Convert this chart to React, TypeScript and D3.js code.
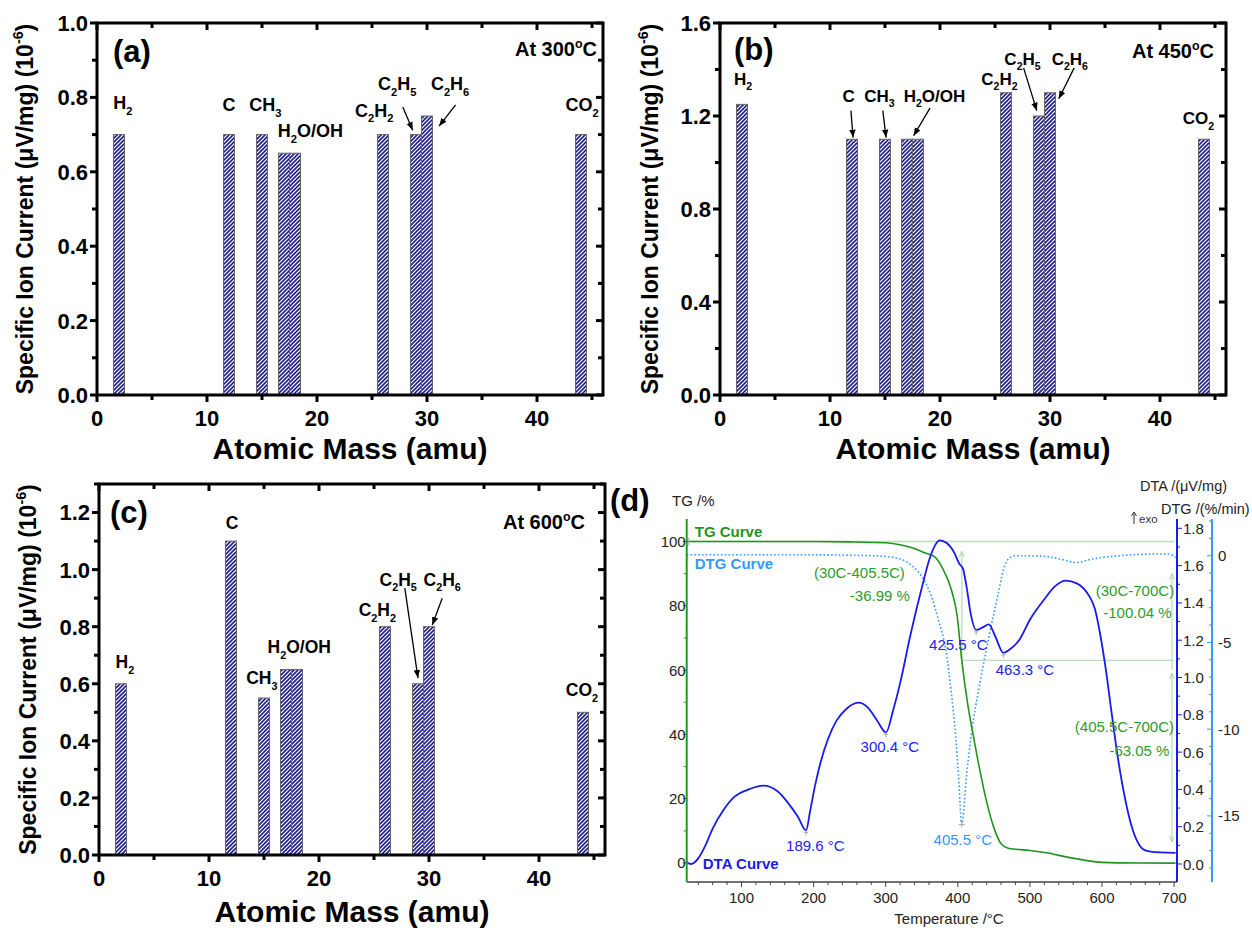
import React, { useEffect, useRef } from "react";
import * as d3 from "d3";

// ---- panels (a)-(c): ion current per atomic mass ----
const mass = [2, 12, 15, 17, 18, 26, 29, 30, 44];
const ion300 = [0.7, 0.7, 0.7, 0.65, 0.65, 0.7, 0.7, 0.75, 0.7];
const ion450 = [1.25, 1.1, 1.1, 1.1, 1.1, 1.3, 1.2, 1.3, 1.1];
const ion600 = [0.6, 1.1, 0.55, 0.65, 0.65, 0.8, 0.6, 0.8, 0.5];
const massTicks = [0, 10, 20, 30, 40];
const massMinor = [5, 15, 25, 35, 45];

// species labels, in data units (x = amu, y = ion current, label centre)
const labels300 = [
  { t: "H_2", x: 2.36, y: 0.785 },
  { t: "C", x: 12, y: 0.78 },
  { t: "CH_3", x: 15.3, y: 0.78 },
  { t: "H_2O/OH", x: 19.4, y: 0.71 },
  { t: "C_2H_2", x: 25.2, y: 0.766 },
  { t: "C_2H_5", x: 27.3, y: 0.836 },
  { t: "C_2H_6", x: 32.1, y: 0.836 },
  { t: "CO_2", x: 44.1, y: 0.78 },
];
const arrows300 = [
  [27.8, 0.774, 28.7, 0.712],
  [32.6, 0.78, 31.1, 0.723],
];
const labels450 = [
  { t: "H_2", x: 2.1, y: 1.36 },
  { t: "C", x: 11.7, y: 1.287 },
  { t: "CH_3", x: 14.5, y: 1.287 },
  { t: "H_2O/OH", x: 19.5, y: 1.287 },
  { t: "C_2H_2", x: 25.4, y: 1.36 },
  { t: "C_2H_5", x: 27.5, y: 1.446 },
  { t: "C_2H_6", x: 31.8, y: 1.446 },
  { t: "CO_2", x: 43.5, y: 1.19 },
];
const arrows450 = [
  [11.9, 1.223, 12.1, 1.107],
  [14.8, 1.223, 15.1, 1.107],
  [19.1, 1.235, 17.6, 1.115],
  [27.6, 1.407, 28.8, 1.223],
  [32.2, 1.407, 30.8, 1.274],
];
const labels600 = [
  { t: "H_2", x: 2.36, y: 0.676 },
  { t: "C", x: 12.1, y: 1.163 },
  { t: "CH_3", x: 14.8, y: 0.62 },
  { t: "H_2O/OH", x: 18.2, y: 0.729 },
  { t: "C_2H_2", x: 25.3, y: 0.858 },
  { t: "C_2H_5", x: 27.2, y: 0.964 },
  { t: "C_2H_6", x: 31.2, y: 0.964 },
  { t: "CO_2", x: 43.9, y: 0.578 },
];
const arrows600 = [
  [27.8, 0.935, 29.0, 0.62],
  [31.2, 0.9, 30.3, 0.806],
];

// ---- panel (d): thermal analysis ----
const tgTemp = [24, 100, 200, 250, 300, 320, 340, 355, 368, 379, 391, 399, 405.5, 414, 422, 430, 440, 450, 460, 470, 480, 500, 525, 550, 575, 600, 650, 702];
const tgMass = [100, 100, 100, 99.9, 99.6, 99.0, 97.8, 96.4, 95.2, 91.6, 85, 77, 63, 49, 39, 29.5, 19, 11, 6, 4.6, 4.3, 3.9, 3.1, 1.9, 0.9, 0.2, 0, -0.04];

const dtaTemp = [24, 30, 40, 50, 60, 75, 90, 110, 130, 150, 165, 178, 189.6, 195, 202, 210, 220, 232, 245, 262, 275, 288, 300.4, 310, 320, 335, 350, 362, 375, 385, 395, 402, 407, 412, 418, 425.5, 435, 443, 452, 463.3, 472, 485, 500, 520, 535, 550, 565, 580, 590, 598, 605, 613, 622, 632, 642, 652, 662, 680, 702];
const dtaVal = [0.01, 0.0, 0.03, 0.1, 0.19, 0.29, 0.36, 0.4, 0.42, 0.39, 0.325, 0.255, 0.18, 0.28, 0.42, 0.55, 0.67, 0.77, 0.83, 0.865, 0.84, 0.77, 0.705, 0.82, 0.97, 1.24, 1.48, 1.65, 1.735, 1.72, 1.67, 1.61, 1.585, 1.49, 1.34, 1.255, 1.27, 1.285, 1.22, 1.132, 1.15, 1.2, 1.31, 1.42, 1.49, 1.52, 1.505, 1.45, 1.37, 1.22, 1.05, 0.82, 0.57, 0.35, 0.19, 0.1, 0.07, 0.062, 0.06];

const dtgTemp = [24, 100, 200, 280, 300, 317, 337, 353, 363, 373, 384, 391, 397, 401, 405.5, 412, 420, 430, 443, 456, 463, 471, 480, 500, 525, 548, 565, 585, 625, 680, 692, 702];
const dtgVal = [0.05, 0.05, 0.05, 0, -0.05, -0.15, -0.6, -1.4, -2.3, -3.7, -5.6, -7.9, -10.4, -12.7, -15.5, -12.7, -9.9, -7.5, -4.7, -2.2, -0.85, -0.15, 0, 0, -0.06, -0.25, -0.4, -0.2, 0, 0.1, 0.1, -0.1];

const tempTicks = [100, 200, 300, 400, 500, 600, 700];
const tgTicks = [0, 20, 40, 60, 80, 100];
const dtaTicks = [0, 0.2, 0.4, 0.6, 0.8, 1.0, 1.2, 1.4, 1.6, 1.8];
const dtgTicks = [0, -5, -10, -15];

// annotations: [text, T, value, scale, colour]
const peakNotes = [
  ["189.6 °C", 202.4, 0.072, "dta", "#2222ee"],
  ["300.4 °C", 305.8, 0.601, "dta", "#2222ee"],
  ["425.5 °C", 400.8, 1.15, "dta", "#2222ee"],
  ["463.3 °C", 493.1, 1.011, "dta", "#2222ee"],
  ["405.5 °C", 407.0, -16.7, "dtg", "#3399ff"],
  ["(30C-405.5C)", 263.5, 88.6, "tg", "#2e9b2e"],
  ["-36.99 %", 291.9, 81.6, "tg", "#2e9b2e"],
  ["(30C-700C)", 645.7, 83.2, "tg", "#2e9b2e"],
  ["-100.04 %", 649.1, 76.2, "tg", "#2e9b2e"],
  ["(405.5C-700C)", 631.1, 40.6, "tg", "#2e9b2e"],
  ["-63.05 %", 651.9, 33.4, "tg", "#2e9b2e"],
];
const markedDta = [
  [189.6, 0.18],
  [300.4, 0.705],
  [425.5, 1.255],
  [463.3, 1.132],
];

const FONT = "'Liberation Sans', Arial, Helvetica, sans-serif";

function rich(text: any, s: string, size: number) {
  const parts = s.split(/(_\{[^}]*\}|_.|\^\{[^}]*\}|\^.)/).filter((p) => p.length);
  let shift = 0;
  parts.forEach((p) => {
    let dy = 0;
    let fs = size;
    let str = p;
    if (p[0] === "_" || p[0] === "^") {
      str = p.slice(1).replace(/[{}]/g, "");
      fs = size * 0.62;
      const target = p[0] === "_" ? size * 0.3 : -size * 0.42;
      dy = target - shift;
      shift = target;
    } else {
      dy = -shift;
      shift = 0;
    }
    text.append("tspan").attr("dy", dy).attr("font-size", fs).text(str);
  });
}

function barPanel(svg: any, cfg: any, values: number[], labels: any[], arrows: number[][]) {
  const x = d3.scaleLinear().domain([0, 46]).range([cfg.left, cfg.right]);
  const y = d3.scaleLinear().domain([0, cfg.yMax]).range([cfg.bottom, cfg.top]);
  const g = svg.append("g").attr("font-family", FONT).attr("font-weight", "bold");

  g.selectAll("rect.bar")
    .data(mass)
    .join("rect")
    .attr("x", (d: number) => x(d - 0.5))
    .attr("width", x(1) - x(0))
    .attr("y", (d: number, i: number) => y(values[i]))
    .attr("height", (d: number, i: number) => y(0) - y(values[i]))
    .attr("fill", "url(#hatch)")
    .attr("stroke", "#666")
    .attr("stroke-width", 1);

  // frame
  g.append("rect")
    .attr("x", cfg.left)
    .attr("y", cfg.top)
    .attr("width", cfg.right - cfg.left)
    .attr("height", cfg.bottom - cfg.top)
    .attr("fill", "none")
    .attr("stroke", "#000")
    .attr("stroke-width", 3);

  const ticks = g.append("g").attr("stroke", "#000").attr("stroke-width", 3);
  const yMaj = d3.range(0, cfg.yMax + 1e-9, cfg.yStep);
  const yMin = d3.range(cfg.yStep / 2, cfg.yMax + 1e-9, cfg.yStep);
  const vt = (vals: number[], len: number) => {
    vals.forEach((v) => {
      ticks.append("line").attr("x1", cfg.left).attr("x2", cfg.left - len).attr("y1", y(v)).attr("y2", y(v));
      ticks.append("line").attr("x1", cfg.right).attr("x2", cfg.right - len).attr("y1", y(v)).attr("y2", y(v));
    });
  };
  const ht = (vals: number[], len: number) => {
    vals.forEach((v) => {
      ticks.append("line").attr("x1", x(v)).attr("x2", x(v)).attr("y1", cfg.bottom).attr("y2", cfg.bottom + len);
      ticks.append("line").attr("x1", x(v)).attr("x2", x(v)).attr("y1", cfg.top).attr("y2", cfg.top + len);
    });
  };
  vt(yMaj, 7);
  vt(yMin, 5);
  ht(massTicks, 7);
  ht(massMinor, 5);

  g.selectAll("text.yl")
    .data(yMaj)
    .join("text")
    .attr("x", cfg.left - 9)
    .attr("y", (d: number) => y(d) + cfg.tickSize * 0.36)
    .attr("text-anchor", "end")
    .attr("font-size", cfg.tickSize)
    .text((d: number) => d3.format(".1f")(d));
  g.selectAll("text.xl")
    .data(massTicks)
    .join("text")
    .attr("x", (d: number) => x(d))
    .attr("y", cfg.bottom + 31)
    .attr("text-anchor", "middle")
    .attr("font-size", cfg.tickSize)
    .text((d: number) => d);

  g.append("text")
    .attr("x", (cfg.left + cfg.right) / 2)
    .attr("y", cfg.bottom + cfg.xTitleDy)
    .attr("text-anchor", "middle")
    .attr("font-size", 30)
    .text("Atomic Mass (amu)");

  const yt = g
    .append("text")
    .attr("transform", `translate(${cfg.yTitleX},${(cfg.top + cfg.bottom) / 2}) rotate(-90)`)
    .attr("text-anchor", "middle")
    .attr("font-size", 23);
  rich(yt, "Specific Ion Current (μV/mg) (10^{-6})", 23);

  g.append("text").attr("x", cfg.tagX).attr("y", cfg.tagY).attr("font-size", 31).text(cfg.tag);
  const temp = g
    .append("text")
    .attr("x", cfg.tempX)
    .attr("y", cfg.tempY)
    .attr("text-anchor", "end")
    .attr("font-size", 20);
  rich(temp, cfg.temp, 20);

  labels.forEach((l) => {
    const t = g
      .append("text")
      .attr("x", x(l.x))
      .attr("y", y(l.y) + cfg.labelSize * 0.36)
      .attr("text-anchor", "middle")
      .attr("font-size", cfg.labelSize);
    rich(t, l.t, cfg.labelSize);
  });
  arrows.forEach((a) => {
    g.append("line")
      .attr("x1", x(a[0]))
      .attr("y1", y(a[1]))
      .attr("x2", x(a[2]))
      .attr("y2", y(a[3]))
      .attr("stroke", "#000")
      .attr("stroke-width", 1.3)
      .attr("marker-end", "url(#arrow)");
  });
}

function thermalPanel(svg: any) {
  const left = 686.7;
  const right = 1177;
  const top = 519;
  const bottom = 882;
  const x = d3.scaleLinear().domain([24, 704]).range([left, right]);
  const tgY = d3.scaleLinear().domain([-5.91, 107]).range([bottom, top]);
  const dtaY = d3.scaleLinear().domain([-0.0965, 1.85]).range([bottom, top]);
  const dtgY = d3.scaleLinear().domain([-18.81, 2.115]).range([bottom, top]);
  const scaleOf: any = { tg: tgY, dta: dtaY, dtg: dtgY };
  const g = svg.append("g").attr("font-family", FONT).attr("font-size", 15);
  const guide = "#b9dfb9";

  // step guide lines
  g.append("line").attr("x1", x(26)).attr("x2", x(700)).attr("y1", tgY(100)).attr("y2", tgY(100)).attr("stroke", guide).attr("stroke-width", 1.3);
  g.append("line").attr("x1", x(405.5)).attr("x2", x(700)).attr("y1", tgY(63.01)).attr("y2", tgY(63.01)).attr("stroke", guide).attr("stroke-width", 1.3);
  g.append("line").attr("x1", x(405.5)).attr("x2", x(405.5)).attr("y1", tgY(63.01)).attr("y2", tgY(97)).attr("stroke", guide).attr("stroke-width", 1.3).attr("marker-end", "url(#garrow)");
  g.append("line").attr("x1", x(697)).attr("x2", x(697)).attr("y1", tgY(60)).attr("y2", tgY(90)).attr("stroke", guide).attr("stroke-width", 1.3).attr("marker-end", "url(#garrow)");
  g.append("line").attr("x1", x(697)).attr("x2", x(697)).attr("y1", tgY(40)).attr("y2", tgY(59)).attr("stroke", guide).attr("stroke-width", 1.3).attr("marker-end", "url(#garrow)");
  g.append("line").attr("x1", x(697)).attr("x2", x(697)).attr("y1", tgY(40)).attr("y2", tgY(6.6)).attr("stroke", guide).attr("stroke-width", 1.3).attr("marker-end", "url(#garrow)");

  const line = (ys: any) =>
    d3
      .line<[number, number]>()
      .x((d) => x(d[0]))
      .y((d) => ys(d[1]))
      .curve(d3.curveMonotoneX);

  g.append("path")
    .attr("d", line(dtgY)(d3.zip(dtgTemp, dtgVal) as any))
    .attr("fill", "none")
    .attr("stroke", "#3399ff")
    .attr("stroke-width", 1.6)
    .attr("stroke-dasharray", "1.6,2.2");
  g.append("path")
    .attr("d", line(tgY)(d3.zip(tgTemp, tgMass) as any))
    .attr("fill", "none")
    .attr("stroke", "#1f951f")
    .attr("stroke-width", 1.6);
  g.append("path")
    .attr("d", line(dtaY)(d3.zip(dtaTemp, dtaVal) as any))
    .attr("fill", "none")
    .attr("stroke", "#1a1aee")
    .attr("stroke-width", 1.8);

  // small markers at picked points
  const mk = g.append("g").attr("stroke", "#aaa").attr("stroke-width", 1);
  markedDta.forEach((p) => {
    mk.append("line").attr("x1", x(p[0])).attr("x2", x(p[0])).attr("y1", dtaY(p[1])).attr("y2", dtaY(p[1]) + 5);
    mk.append("line").attr("x1", x(p[0]) - 2).attr("x2", x(p[0]) + 2).attr("y1", dtaY(p[1]) + 2).attr("y2", dtaY(p[1]) + 2);
  });
  mk.append("line").attr("x1", x(405.5)).attr("x2", x(405.5)).attr("y1", dtgY(-15.5) - 3).attr("y2", dtgY(-15.5) + 3);
  mk.append("line").attr("x1", x(405.5) - 3).attr("x2", x(405.5) + 3).attr("y1", dtgY(-15.5)).attr("y2", dtgY(-15.5));
  mk.append("line").attr("x1", x(27)).attr("x2", x(27)).attr("y1", tgY(100) - 4).attr("y2", tgY(100) + 4);

  // axes
  g.append("line").attr("x1", left).attr("x2", right).attr("y1", bottom).attr("y2", bottom).attr("stroke", "#444").attr("stroke-width", 1.5);
  d3.range(40, 701, 20).forEach((t) => {
    const len = t % 100 === 0 ? 5 : 3;
    g.append("line").attr("x1", x(t)).attr("x2", x(t)).attr("y1", bottom).attr("y2", bottom + len).attr("stroke", "#444").attr("stroke-width", 1);
  });
  g.selectAll("text.tx")
    .data(tempTicks)
    .join("text")
    .attr("x", (d: number) => x(d))
    .attr("y", 903)
    .attr("text-anchor", "middle")
    .attr("fill", "#222")
    .text((d: number) => d);

  g.append("line").attr("x1", left).attr("x2", left).attr("y1", top).attr("y2", bottom).attr("stroke", "#1f9a1f").attr("stroke-width", 2);
  d3.range(0, 101, 10).forEach((v) => {
    g.append("line").attr("x1", left).attr("x2", left - (v % 20 === 0 ? 4 : 3)).attr("y1", tgY(v)).attr("y2", tgY(v)).attr("stroke", "#1f9a1f").attr("stroke-width", 1);
  });
  g.selectAll("text.tg")
    .data(tgTicks)
    .join("text")
    .attr("x", left - 1)
    .attr("y", (d: number) => tgY(d) + 5.5)
    .attr("text-anchor", "end")
    .attr("fill", "#222")
    .text((d: number) => d);

  g.append("line").attr("x1", right).attr("x2", right).attr("y1", top).attr("y2", bottom).attr("stroke", "#1a1aee").attr("stroke-width", 2);
  d3.range(0, 19).forEach((i) => {
    const v = i / 10;
    g.append("line").attr("x1", right).attr("x2", right + (i % 2 === 0 ? 5 : 3)).attr("y1", dtaY(v)).attr("y2", dtaY(v)).attr("stroke", "#1a1aee").attr("stroke-width", 1);
  });
  g.selectAll("text.dta")
    .data(dtaTicks)
    .join("text")
    .attr("x", right + 6)
    .attr("y", (d: number) => dtaY(d) + 5.5)
    .attr("fill", "#222")
    .text((d: number) => d3.format(".1f")(d));

  const dtgX = 1212;
  g.append("line").attr("x1", dtgX).attr("x2", dtgX).attr("y1", top).attr("y2", bottom).attr("stroke", "#3399ff").attr("stroke-width", 2);
  d3.range(-18, 3).forEach((v) => {
    g.append("line").attr("x1", dtgX).attr("x2", dtgX - (v % 5 === 0 ? 5 : 3)).attr("y1", dtgY(v)).attr("y2", dtgY(v)).attr("stroke", "#3399ff").attr("stroke-width", 1);
  });
  g.selectAll("text.dtg")
    .data(dtgTicks)
    .join("text")
    .attr("x", dtgX + 6)
    .attr("y", (d: number) => dtgY(d) + 5.5)
    .attr("fill", "#222")
    .text((d: number) => d);

  // titles
  g.append("text").attr("x", 672).attr("y", 506).attr("fill", "#222").text("TG /%");
  g.append("text").attr("x", 1140).attr("y", 491).attr("font-size", 14.5).attr("fill", "#222").text("DTA /(μV/mg)");
  g.append("text").attr("x", 1161).attr("y", 514).attr("font-size", 14.5).attr("fill", "#222").text("DTG /(%/min)");
  // exo arrow
  g.append("line").attr("x1", 1134).attr("x2", 1134).attr("y1", 524).attr("y2", 513).attr("stroke", "#333").attr("stroke-width", 1);
  g.append("path").attr("d", "M1131.5,516 L1134,512 L1136.5,516").attr("fill", "none").attr("stroke", "#333").attr("stroke-width", 1);
  g.append("text").attr("x", 1139).attr("y", 523).attr("font-size", 11.5).attr("fill", "#333").text("exo");
  g.append("text").attr("x", 949).attr("y", 924).attr("text-anchor", "middle").attr("fill", "#222").text("Temperature /°C");

  g.append("text").attr("x", x(35.2)).attr("y", tgY(101.4)).attr("font-weight", "bold").attr("fill", "#1f951f").text("TG Curve");
  g.append("text").attr("x", x(35.2)).attr("y", tgY(91.3)).attr("font-weight", "bold").attr("fill", "#3399ff").text("DTG Curve");
  g.append("text").attr("x", x(46.3)).attr("y", dtaY(-0.029)).attr("font-weight", "bold").attr("fill", "#1a1aee").text("DTA Curve");

  peakNotes.forEach((n: any) => {
    g.append("text")
      .attr("x", x(n[1]))
      .attr("y", scaleOf[n[3]](n[2]))
      .attr("text-anchor", "middle")
      .attr("fill", n[4])
      .text(n[0]);
  });

  svg.append("text").attr("x", 610).attr("y", 511).attr("font-family", FONT).attr("font-weight", "bold").attr("font-size", 31).text("(d)");
}

export default function App() {
  const ref = useRef<SVGSVGElement>(null);

  useEffect(() => {
    const svg = d3.select(ref.current);
    svg.selectAll("*").remove();
    svg.append("rect").attr("width", 1252).attr("height", 930).attr("fill", "#fff");

    const defs = svg.append("defs");
    const pat = defs
      .append("pattern")
      .attr("id", "hatch")
      .attr("patternUnits", "userSpaceOnUse")
      .attr("width", 4)
      .attr("height", 4);
    pat.append("rect").attr("width", 4).attr("height", 4).attr("fill", "#fff");
    pat.append("path").attr("d", "M-1,1 l2,-2 M0,4 l4,-4 M3,5 l2,-2").attr("stroke", "#1e1e8e").attr("stroke-width", 1.6);

    defs
      .append("marker")
      .attr("id", "arrow")
      .attr("markerUnits", "userSpaceOnUse")
      .attr("markerWidth", 9)
      .attr("markerHeight", 8)
      .attr("refX", 8)
      .attr("refY", 3.5)
      .attr("orient", "auto")
      .append("path")
      .attr("d", "M0,0.3 L8,3.5 L0,6.7 z")
      .attr("fill", "#000");
    defs
      .append("marker")
      .attr("id", "garrow")
      .attr("markerUnits", "userSpaceOnUse")
      .attr("markerWidth", 7)
      .attr("markerHeight", 6)
      .attr("refX", 6)
      .attr("refY", 2.5)
      .attr("orient", "auto")
      .append("path")
      .attr("d", "M0,0 L6,2.5 L0,5")
      .attr("fill", "none")
      .attr("stroke", "#a9d6a9");

    barPanel(
      svg,
      { left: 97, right: 603, top: 23, bottom: 395, yMax: 1.0, yStep: 0.2, tickSize: 22, labelSize: 18, xTitleDy: 64, yTitleX: 33, tag: "(a)", tagX: 113, tagY: 62, temp: "At 300^oC", tempX: 597, tempY: 56 },
      ion300,
      labels300,
      arrows300
    );
    barPanel(
      svg,
      { left: 720, right: 1226, top: 23, bottom: 395, yMax: 1.6, yStep: 0.4, tickSize: 22, labelSize: 17, xTitleDy: 64, yTitleX: 658, tag: "(b)", tagX: 734, tagY: 60, temp: "At 450^oC", tempX: 1214, tempY: 58 },
      ion450,
      labels450,
      arrows450
    );
    barPanel(
      svg,
      { left: 99, right: 605, top: 484, bottom: 855, yMax: 1.3, yStep: 0.2, tickSize: 22, labelSize: 17.5, xTitleDy: 67, yTitleX: 36, tag: "(c)", tagX: 110, tagY: 523, temp: "At 600^oC", tempX: 585, tempY: 529 },
      ion600,
      labels600,
      arrows600
    );
    thermalPanel(svg);
  }, []);

  return (
    <svg
      ref={ref}
      width={1252}
      height={930}
      style={{ position: "absolute", left: 0, top: 0, display: "block" }}
    />
  );
}
